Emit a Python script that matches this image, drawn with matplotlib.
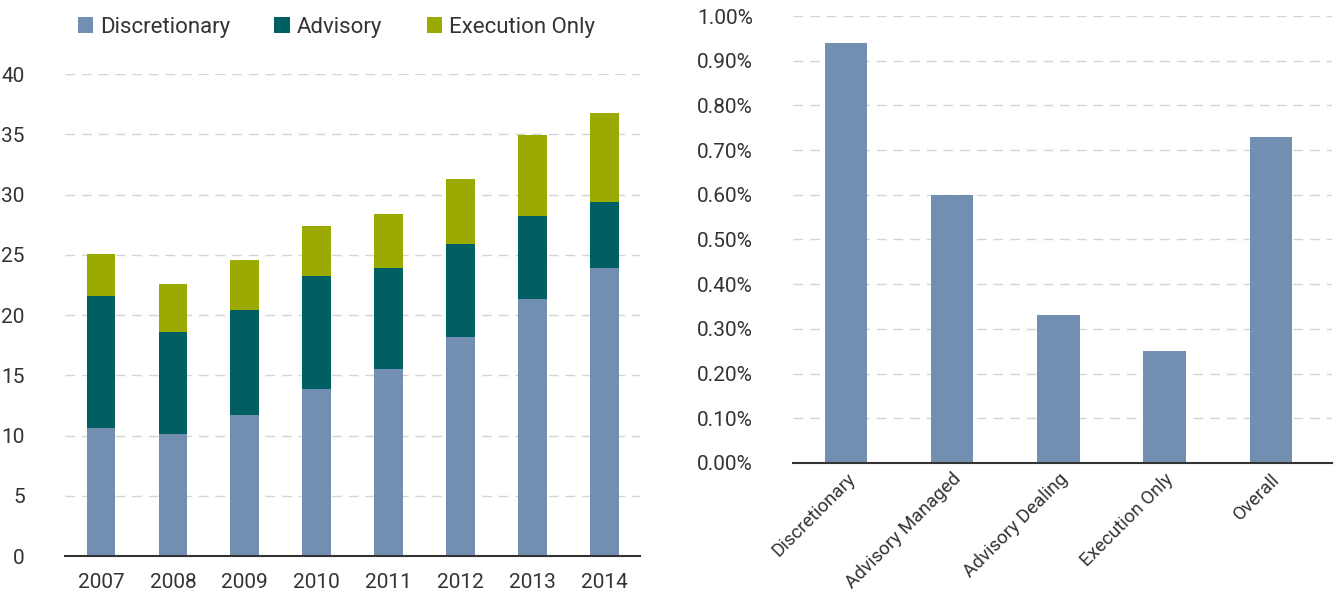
import numpy as np
import matplotlib
matplotlib.use("Agg")
import matplotlib.pyplot as plt
from matplotlib.ticker import FuncFormatter

plt.rcParams["font.family"] = ["Roboto", "DejaVu Sans"]

years = ["2007", "2008", "2009", "2010", "2011", "2012", "2013", "2014"]
discretionary = [10.65, 10.1, 11.7, 13.9, 15.5, 18.2, 21.3, 23.9]
advisory = [10.95, 8.5, 8.7, 9.3, 8.4, 7.7, 6.9, 5.45]
execution_only = [3.5, 3.95, 4.2, 4.2, 4.5, 5.4, 6.7, 7.45]

fee_categories = ["Discretionary", "Advisory Managed", "Advisory Dealing",
                  "Execution Only", "Overall"]
fee_values = [0.94, 0.60, 0.33, 0.25, 0.73]  # percent

c_disc = "#728fb2"
c_adv = "#005f62"
c_exec = "#9aaa00"
text_c = "#333333"
grid_c = "#d4d4d4"

fig = plt.figure(figsize=(13.35, 5.98), dpi=100)

# left: stacked bars
ax1 = fig.add_axes([0.0487, 0.0702, 0.431, 0.806])
x = np.arange(len(years))
w = 0.4
disc = np.array(discretionary)
adv = np.array(advisory)
exe = np.array(execution_only)
ax1.bar(x, disc, w, color=c_disc, label="Discretionary", zorder=3)
ax1.bar(x, adv, w, bottom=disc, color=c_adv, label="Advisory", zorder=3)
ax1.bar(x, exe, w, bottom=disc + adv, color=c_exec, label="Execution Only", zorder=3)
ax1.set_xlim(-0.5, len(years) - 0.5)
ax1.set_ylim(0, 40)
ax1.set_yticks(np.arange(0, 41, 5))
ax1.set_xticks(x)
ax1.set_xticklabels(years)

leg = ax1.legend(loc="lower left", bbox_to_anchor=(0.022, 1.075), ncol=3,
                 frameon=False, fontsize=16, handlelength=0.7,
                 handleheight=0.7, handletextpad=0.3, columnspacing=2.0,
                 borderaxespad=0, borderpad=0)
for t in leg.get_texts():
    t.set_color(text_c)

# right: single series
ax2 = fig.add_axes([0.594, 0.2258, 0.404, 0.7474])
x2 = np.arange(len(fee_categories))
ax2.bar(x2, fee_values, 0.4, color=c_disc, zorder=3)
ax2.set_xlim(-0.5, len(fee_categories) - 0.42)
ax2.set_ylim(0, 1.0)
ax2.set_yticks(np.arange(0, 1.01, 0.1))
ax2.yaxis.set_major_formatter(FuncFormatter(lambda v, p: f"{v:.2f}%"))
ax2.set_xticks(x2)
ax2.set_xticklabels(fee_categories, rotation=45, ha="right",
                    rotation_mode="anchor")

for ax in (ax1, ax2):
    for s in ("top", "right", "left"):
        ax.spines[s].set_visible(False)
    ax.spines["bottom"].set_color("#333333")
    ax.spines["bottom"].set_linewidth(1.5)
    ax.spines["bottom"].set_zorder(4)
    ax.yaxis.grid(True, color=grid_c, linestyle=(0, (7, 5)), linewidth=1, zorder=0)
    ax.tick_params(axis="both", length=0, labelsize=15, colors=text_c)
    ax.tick_params(axis="y", pad=29)
    ax.tick_params(axis="x", pad=12)

ax2.tick_params(axis="y", pad=29)
ax2.tick_params(axis="x", labelsize=13.5, pad=5)

fig.savefig("out.png", dpi=100)
